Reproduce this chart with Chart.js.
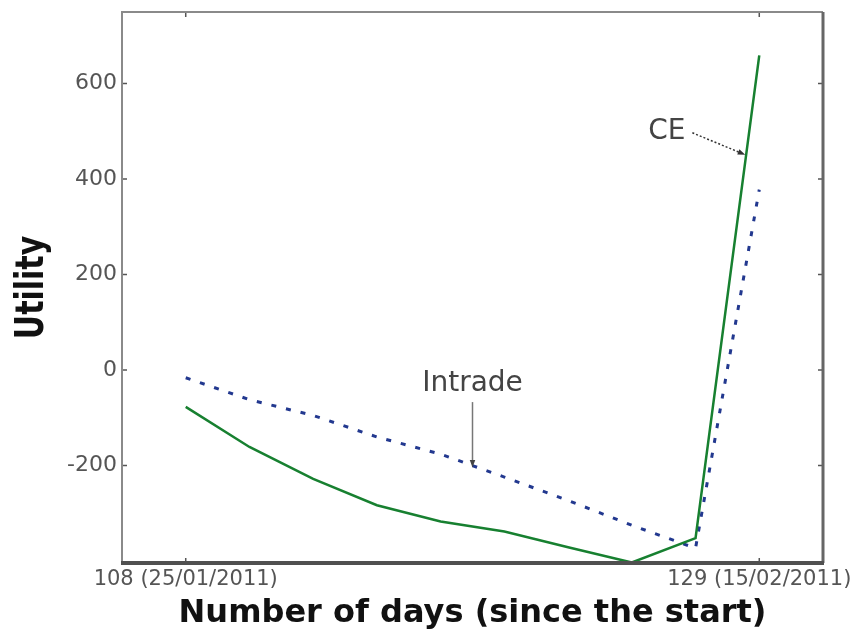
<!DOCTYPE html>
<html>
<head>
<meta charset="utf-8">
<script src="https://cdn.jsdelivr.net/npm/chart.js@4/dist/chart.umd.min.js"></script>
<style>
  html, body { margin: 0; padding: 0; background: #fff; }
</style>
</head>
<body>
<canvas id="utilityChart" width="862" height="633"></canvas>
<script>
// sample positions (10 equally spaced dates between day 108 and day 129)
const pointIndex = [1, 2, 3, 4, 5, 6, 7, 8, 9, 10];
const ceUtility = [-77, -161, -228, -283, -317, -338, -371, -403, -352, 659];
const intradeUtility = [-16, -62, -95, -140, -176, -224, -273, -325, -373, 378];

const xTickValues = [1, 10];
const xTickLabels = ["108 (25/01/2011)", "129 (15/02/2011)"];
const yTickValues = [-200, 0, 200, 400, 600];

// annotation anchors, in data units
const ceNote = { text: "CE", x: 8.55, y: 499 };
const ceArrow = [[8.95, 497], [9.78, 451]];
const intradeNote = { text: "Intrade", x: 5.5, y: -29 };
const intradeArrow = [[5.5, -67], [5.5, -204]];

function drawArrow(ctx, x1, y1, x2, y2, dash) {
    const ang = Math.atan2(y2 - y1, x2 - x1);
    const head = 8;
    ctx.setLineDash(dash);
    ctx.beginPath();
    ctx.moveTo(x1, y1);
    ctx.lineTo(x2 - Math.cos(ang) * head * 0.8, y2 - Math.sin(ang) * head * 0.8);
    ctx.stroke();
    ctx.setLineDash([]);
    ctx.beginPath();
    ctx.moveTo(x2, y2);
    ctx.lineTo(x2 - head * Math.cos(ang - 0.35), y2 - head * Math.sin(ang - 0.35));
    ctx.lineTo(x2 - head * Math.cos(ang + 0.35), y2 - head * Math.sin(ang + 0.35));
    ctx.closePath();
    ctx.fill();
}

// box, inward ticks, titles and text notes
const decorPlugin = {
    id: "decor",
    afterDatasetsDraw(chart) {
        const { ctx, chartArea: a, scales: { x, y } } = chart;
        ctx.save();

        // notes
        ctx.font = "28px 'DejaVu Sans'";
        ctx.fillStyle = "#444";
        ctx.textAlign = "center";
        ctx.textBaseline = "middle";
        ctx.fillText(ceNote.text, x.getPixelForValue(ceNote.x), y.getPixelForValue(ceNote.y));
        ctx.fillText(intradeNote.text, x.getPixelForValue(intradeNote.x), y.getPixelForValue(intradeNote.y));

        ctx.strokeStyle = "#333";
        ctx.fillStyle = "#333";
        ctx.lineWidth = 1.5;
        drawArrow(ctx,
            x.getPixelForValue(ceArrow[0][0]), y.getPixelForValue(ceArrow[0][1]),
            x.getPixelForValue(ceArrow[1][0]), y.getPixelForValue(ceArrow[1][1]), [2, 2]);
        ctx.strokeStyle = "#777";
        ctx.fillStyle = "#444";
        drawArrow(ctx,
            x.getPixelForValue(intradeArrow[0][0]), y.getPixelForValue(intradeArrow[0][1]),
            x.getPixelForValue(intradeArrow[1][0]), y.getPixelForValue(intradeArrow[1][1]), []);

        // ticks
        ctx.strokeStyle = "#555";
        ctx.lineWidth = 1.5;
        ctx.beginPath();
        yTickValues.forEach(v => {
            const py = y.getPixelForValue(v);
            ctx.moveTo(a.left, py); ctx.lineTo(a.left + 5, py);
            ctx.moveTo(a.right - 5, py); ctx.lineTo(a.right, py);
        });
        xTickValues.forEach(v => {
            const px = x.getPixelForValue(v);
            ctx.moveTo(px, a.bottom); ctx.lineTo(px, a.bottom - 5);
            ctx.moveTo(px, a.top); ctx.lineTo(px, a.top + 5);
        });
        ctx.stroke();

        // frame
        ctx.strokeStyle = "#8a8a8a";
        ctx.lineWidth = 2;
        ctx.beginPath();
        ctx.moveTo(a.left, a.bottom); ctx.lineTo(a.left, a.top); ctx.lineTo(a.right, a.top);
        ctx.stroke();
        ctx.strokeStyle = "#666";
        ctx.lineWidth = 3;
        ctx.beginPath();
        ctx.moveTo(a.right, a.top); ctx.lineTo(a.right, a.bottom);
        ctx.stroke();
        ctx.strokeStyle = "#505050";
        ctx.lineWidth = 4;
        ctx.beginPath();
        ctx.moveTo(a.left - 1, a.bottom); ctx.lineTo(a.right + 1, a.bottom);
        ctx.stroke();

        // axis titles
        ctx.fillStyle = "#111";
        ctx.font = "bold 32px 'DejaVu Sans'";
        ctx.textAlign = "center";
        ctx.textBaseline = "alphabetic";
        ctx.fillText("Number of days (since the start)", (a.left + a.right) / 2, 622);

        ctx.translate(43, (a.top + a.bottom) / 2);
        ctx.scale(1.3, 1);
        ctx.rotate(-Math.PI / 2);
        ctx.font = "bold 30px 'DejaVu Sans'";
        ctx.fillText("Utility", 0, 0);
        ctx.restore();
    }
};

new Chart(document.getElementById("utilityChart"), {
    type: "line",
    data: {
        datasets: [{
            label: "CE",
            data: pointIndex.map((v, i) => ({ x: v, y: ceUtility[i] })),
            borderColor: "#178030",
            borderWidth: 2.5,
            pointRadius: 0,
            tension: 0
        }, {
            label: "Intrade",
            data: pointIndex.map((v, i) => ({ x: v, y: intradeUtility[i] })),
            borderColor: "#22388f",
            borderWidth: 3,
            borderDash: [5, 10],
            pointRadius: 0,
            tension: 0
        }]
    },
    options: {
        responsive: false,
        animation: false,
        devicePixelRatio: 1,
        layout: { padding: { top: 12, right: 39, left: 0, bottom: 0 } },
        plugins: { legend: { display: false }, tooltip: { enabled: false } },
        scales: {
            x: {
                type: "linear",
                min: 0,
                max: 11,
                afterBuildTicks: s => { s.ticks = xTickValues.map(v => ({ value: v })); },
                afterFit: s => { s.height = 70; s.paddingLeft = 0; s.paddingRight = 0; },
                ticks: {
                    autoSkip: false,
                    maxRotation: 0,
                    padding: 4,
                    color: "#555",
                    font: { family: "DejaVu Sans", size: 21 },
                    callback: (v, i) => xTickLabels[i]
                },
                grid: { display: false, drawTicks: false },
                border: { display: false }
            },
            y: {
                min: -404,
                max: 750,
                afterBuildTicks: s => { s.ticks = yTickValues.map(v => ({ value: v })); },
                afterFit: s => { s.width = 122; s.paddingTop = 0; s.paddingBottom = 0; },
                ticks: {
                    padding: 5,
                    color: "#555",
                    font: { family: "DejaVu Sans", size: 22 }
                },
                grid: { display: false, drawTicks: false },
                border: { display: false }
            }
        }
    },
    plugins: [decorPlugin]
});
</script>
</body>
</html>
